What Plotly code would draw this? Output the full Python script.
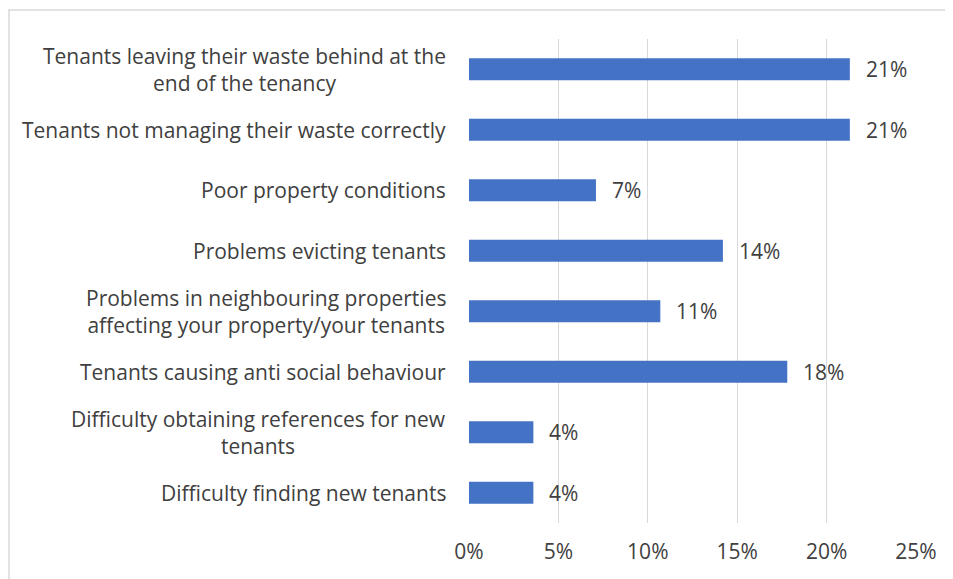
import plotly.graph_objects as go

categories = [
    "Tenants leaving their waste behind at the<br>end of the tenancy",
    "Tenants not managing their waste correctly",
    "Poor property conditions",
    "Problems evicting tenants",
    "Problems in neighbouring properties<br>affecting your property/your tenants",
    "Tenants causing anti social behaviour",
    "Difficulty obtaining references for new<br>tenants",
    "Difficulty finding new tenants",
]
values = [21.3, 21.3, 7.1, 14.2, 10.7, 17.8, 3.6, 3.6]
value_labels = ["21%", "21%", "7%", "14%", "11%", "18%", "4%", "4%"]
tick_vals = [0, 5, 10, 15, 20, 25]
tick_text = ["0%", "5%", "10%", "15%", "20%", "25%"]

FONT = "Open Sans"
FS = 21
TXT = "#404040"
W, H = 953, 579
OFF = 8  # page body margin
L, T = 469 - OFF, 39 - OFF
R = W + OFF - 916
B = H + OFF - 523

fig = go.Figure(go.Bar(
    x=values, y=categories, orientation="h",
    marker=dict(color="#4472C4", line=dict(width=0)),
    width=0.36, hoverinfo="skip",
))

annotations = []
for c, v, lab in zip(categories, values, value_labels):
    annotations.append(dict(x=v, y=c, xref="x", yref="y", text=lab, showarrow=False,
                            xanchor="left", xshift=14, font=dict(family=FONT, size=FS, color=TXT)))
    annotations.append(dict(x=0, y=c, xref="paper", yref="y", text=c, showarrow=False,
                            xanchor="right", xshift=-21, align="center",
                            font=dict(family=FONT, size=FS, color=TXT)))

pw, ph = W - L - R, H - T - B
fig.update_layout(
    width=W, height=H,
    margin=dict(l=L, r=R, t=T, b=B),
    paper_bgcolor="white", plot_bgcolor="white",
    showlegend=False,
    annotations=annotations,
    shapes=[dict(type="rect", xref="paper", yref="paper",
                 x0=(1 - L) / pw, x1=(W + 20 - L) / pw,
                 y0=-(B + 20) / ph, y1=1 + (T - 10 + OFF) / ph,
                 line=dict(color="#d9d9d9", width=1.5), fillcolor="rgba(0,0,0,0)", layer="below")],
    xaxis=dict(range=[0, 25], tickvals=tick_vals, ticktext=tick_text,
               showgrid=True, gridcolor="#d9d9d9", gridwidth=1, zeroline=False,
               showline=False, ticks="", ticklabelstandoff=14,
               tickfont=dict(family=FONT, size=FS, color=TXT)),
    yaxis=dict(categoryorder="array", categoryarray=categories[::-1],
               showticklabels=False, showgrid=False, zeroline=False, showline=False,
               range=[-0.5, 7.5]),
)

fig.write_html("out.html")
